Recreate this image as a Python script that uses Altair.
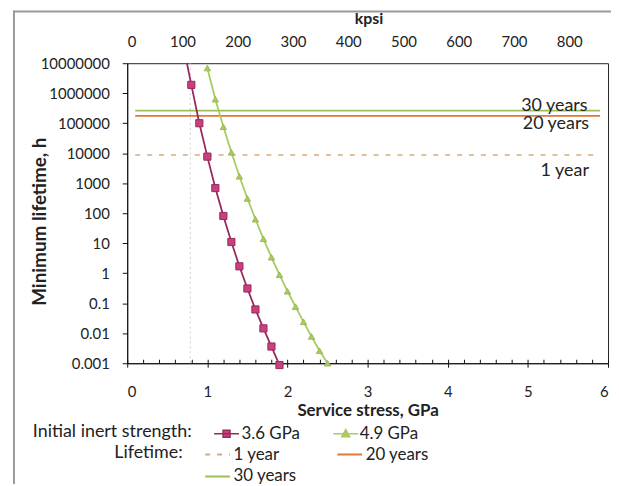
import altair as alt
import pandas as pd

# ---------------- data ----------------
s36_stress = [0.7, 0.8, 0.9, 1.0, 1.1, 1.2, 1.3, 1.4, 1.5, 1.6, 1.7, 1.8, 1.9]
s36_life = [4.0e7, 1.9e6, 1.0e5, 7.7e3, 690, 81, 11, 1.7, 0.31, 0.062, 0.0145, 0.0036, 0.00087]

s49_stress = [1.0, 1.1, 1.2, 1.3, 1.4, 1.5, 1.6, 1.7, 1.8, 1.9, 2.0, 2.1, 2.2, 2.3, 2.4, 2.5]
s49_life = [6.9e6, 6.3e5, 7.6e4, 1.07e4, 1.7e3, 310, 63, 14, 3.4, 0.89, 0.25, 0.077,
            0.024, 0.0078, 0.0026, 0.001]

life_names = ["1 year", "20 years", "30 years"]
life_hours = [8760, 175200, 262800]
life_from = [0.1, 0.1, 0.1]
life_to = [5.9, 5.9, 5.9]
life_colors = ["#d8aa78", "#e2773a", "#9dbf55"]
life_dash = [[5, 7], [1, 0], [1, 0]]

note_text = ["30 years", "20 years", "1 year"]
note_stress = [5.33, 5.35, 5.46]
note_life = [3.8e5, 9.5e4, 2.6e3]

guide_stress = [0.787]

gpa_ticks = [0, 1, 2, 3, 4, 5, 6]
gpa_minor = [0, 0.2, 0.4, 0.6, 0.8, 1, 1.2, 1.4, 1.6, 1.8, 2, 2.2, 2.4, 2.6, 2.8, 3,
             3.2, 3.4, 3.6, 3.8, 4, 4.2, 4.4, 4.6, 4.8, 5, 5.2, 5.4, 5.6, 5.8, 6]
kpsi_ticks = [0, 100, 200, 300, 400, 500, 600, 700, 800]
kpsi_max = 870.23  # 6 GPa in kpsi
life_ticks = [1e7, 1e6, 1e5, 1e4, 1e3, 100, 10, 1, 0.1, 0.01, 0.001]

RED = "#c8407c"
RED_DARK = "#98295e"
GREEN = "#a9cb60"
GREEN_DARK = "#8fb448"
FONT = "Lato"
TXT = "#222222"

# ---------------- tables ----------------
red_df = pd.DataFrame({"stress": s36_stress, "life": s36_life, "strength": "3.6 GPa"})
green_df = pd.DataFrame({"stress": s49_stress, "life": s49_life, "strength": "4.9 GPa"})
life_df = pd.DataFrame({"name": life_names, "hours": life_hours, "x0": life_from, "x1": life_to})
note_df = pd.DataFrame({"text": note_text, "stress": note_stress, "life": note_life})
guide_df = pd.DataFrame({"stress": guide_stress})
minor_df = pd.DataFrame({"t": gpa_minor})
kpsi_df = pd.DataFrame({"k": kpsi_ticks})

gpa_scale = alt.Scale(domain=[0, 6], nice=False, zero=False)
y_scale = alt.Scale(type="log", domain=[0.001, 1e7], nice=False)

y_axis = alt.Axis(values=life_ticks, format="~f", tickSize=5, labelPadding=13, grid=False,
                  title="Minimum lifetime, h", titleX=-88, titleY=159, titleAngle=270,
                  titleBaseline="middle", titleAlign="center", titleFontSize=19)

x_axis = alt.Axis(orient="bottom", values=gpa_ticks, format="d", tickSize=4, labelPadding=18,
                  grid=False, title="Service stress, GPa", titleY=48,
                  titleBaseline="middle", titleAlign="center", titleFontSize=17)

minor_axis = alt.Axis(orient="bottom", values=gpa_minor, labels=False, domain=False, tickSize=4,
                      offset=-4, grid=False, title=None)

top_axis = alt.Axis(orient="top", values=kpsi_ticks, format="d", ticks=False, tickSize=0,
                    domain=False, labelPadding=14, grid=False, title="kpsi", titleX=243,
                    titleY=-45, titleBaseline="middle", titleAlign="center", titleFontSize=16)

SQ_PATH = "M-1.25,0L1.25,0M-0.35,-0.35L0.35,-0.35L0.35,0.35L-0.35,0.35Z"
TRI_PATH = "M-1.25,0L1.25,0M0,-0.42L0.4,0.3L-0.4,0.3Z"
LINE_PATH = "M-1.25,0L1.25,0"

legend_common = dict(orient="none", padding=0, symbolSize=400, labelFont=FONT, labelFontSize=17,
                     labelColor=TXT, titleFont=FONT, titleFontSize=18, titleFontWeight="normal",
                     titleColor=TXT, titleAnchor="start", titleBaseline="top")

legA = alt.Legend(title="Initial inert strength:", legendX=-95, legendY=362, titleOrient="left",
                  titlePadding=24, symbolType=SQ_PATH, symbolStrokeColor=RED_DARK,
                  symbolStrokeWidth=1.5, labelOffset=4, **legend_common)
legB = alt.Legend(title=None, legendX=209, legendY=362, symbolType=TRI_PATH,
                  symbolStrokeColor=GREEN, symbolStrokeWidth=1.5, labelOffset=3, **legend_common)
legC = alt.Legend(title="Lifetime:", legendX=-13, legendY=383, titleOrient="left", titlePadding=24,
                  symbolType=LINE_PATH, symbolStrokeWidth=2, labelOffset=5, columns=2,
                  direction="horizontal", columnPadding=36, rowPadding=3, **legend_common)

# ---------------- layers ----------------
frame_left = alt.Chart(alt.Data(values=[{}])).mark_rule(color="#9a9a9a", strokeWidth=2).encode(
    x=alt.value(-114), y=alt.value(-53), y2=alt.value(440)
)
frame_top = alt.Chart(alt.Data(values=[{}])).mark_rule(color="#9a9a9a", strokeWidth=2).encode(
    x=alt.value(-115), x2=alt.value(500), y=alt.value(-52)
)

guide = alt.Chart(guide_df).mark_rule(color="#cfcfcf", strokeDash=[2, 3], strokeWidth=1).encode(
    x=alt.X("stress:Q", scale=gpa_scale, axis=None)
)

life_rules = alt.Chart(life_df).mark_rule(strokeWidth=1.6).encode(
    x=alt.X("x0:Q", scale=gpa_scale, axis=None),
    x2="x1:Q",
    y=alt.Y("hours:Q", scale=y_scale, axis=y_axis),
    color=alt.Color("name:N", scale=alt.Scale(domain=life_names, range=life_colors), legend=legC),
    strokeDash=alt.StrokeDash("name:N", scale=alt.Scale(domain=life_names, range=life_dash),
                              legend=legC),
)

red_line = alt.Chart(red_df).mark_line(color=RED_DARK, strokeWidth=1.8, clip=True).encode(
    x=alt.X("stress:Q", scale=gpa_scale, axis=x_axis),
    y=alt.Y("life:Q", scale=y_scale, axis=y_axis),
)
red_pts = alt.Chart(red_df).transform_filter("datum.life <= 1e7").mark_point(
    filled=True, shape="square", size=52, stroke=RED_DARK, strokeWidth=1, opacity=1
).encode(
    x=alt.X("stress:Q", scale=gpa_scale, axis=None),
    y=alt.Y("life:Q", scale=y_scale, axis=y_axis),
    color=alt.Color("strength:N", scale=alt.Scale(domain=["3.6 GPa"], range=[RED]), legend=legA),
)

green_line = alt.Chart(green_df).mark_line(color=GREEN, strokeWidth=1.8, clip=True).encode(
    x=alt.X("stress:Q", scale=gpa_scale, axis=None),
    y=alt.Y("life:Q", scale=y_scale, axis=y_axis),
)
green_pts = alt.Chart(green_df).mark_point(
    filled=True, shape="triangle-up", size=42, stroke=GREEN_DARK, strokeWidth=0.8, opacity=1
).encode(
    x=alt.X("stress:Q", scale=gpa_scale, axis=None),
    y=alt.Y("life:Q", scale=y_scale, axis=y_axis),
    color=alt.Color("strength:N", scale=alt.Scale(domain=["4.9 GPa"], range=[GREEN]), legend=legB),
)

notes = alt.Chart(note_df).mark_text(font=FONT, fontSize=18, color=TXT, align="center",
                                     baseline="middle").encode(
    x=alt.X("stress:Q", scale=gpa_scale, axis=None),
    y=alt.Y("life:Q", scale=y_scale, axis=y_axis),
    text="text:N",
)

minor = alt.Chart(minor_df).mark_point(opacity=0).encode(
    x=alt.X("t:Q", scale=gpa_scale, axis=minor_axis)
)

kpsi = alt.Chart(kpsi_df).mark_point(opacity=0).encode(
    x=alt.X("k:Q", scale=alt.Scale(domain=[0, kpsi_max], nice=False, zero=False), axis=top_axis)
)

chart = alt.layer(
    frame_left, frame_top, guide, life_rules, red_line, green_line, red_pts, green_pts, notes,
    minor, kpsi
).resolve_scale(
    x="independent", color="independent", strokeDash="independent"
).properties(
    width=484, height=302,
    autosize=alt.AutoSizeParams(type="none"),
    padding={"left": 120, "top": 54, "right": 3, "bottom": 120},
).configure_view(
    stroke="#222222", strokeWidth=1
).configure_axis(
    labelFont=FONT, labelFontSize=15, labelColor=TXT, titleFont=FONT, titleFontSize=16,
    titleFontWeight="bold", titleColor=TXT, domainColor="#111111", tickColor="#111111"
)

chart.save("out.html", embed_options={"renderer": "svg", "actions": False})
